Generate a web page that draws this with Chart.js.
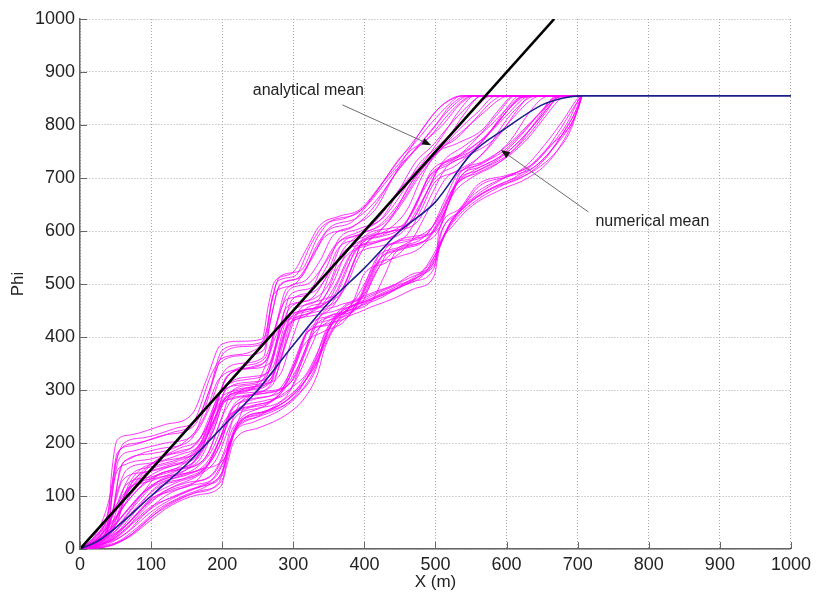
<!DOCTYPE html>
<html>
<head>
<meta charset="utf-8">
<script src="https://cdn.jsdelivr.net/npm/chart.js@4.4.0/dist/chart.umd.min.js"></script>
<style>
    html, body { margin: 0; padding: 0; background: #ffffff; }
    #wrap { width: 816px; height: 599px; }
</style>
</head>
<body>
<div id="wrap"><canvas id="phiChart" width="816" height="599"></canvas></div>
<script>
// Analytical mean (straight line) and numerical mean
const analyticalX = [0, 667];
const analyticalY = [0, 1000];

const numericalX = [0, 25, 50, 100, 150, 200, 250, 300, 350, 400, 450, 500, 550, 600, 650, 680, 705, 1000];
const numericalY = [0, 15, 40, 100, 160, 230, 300, 385, 465, 530, 600, 655, 745, 795, 838, 851, 855, 855];

// Individual realizations, [x, phi] pairs
const realizations = [
    [[0,0],[20,10],[38,40],[45,150],[52,205],[70,215],[120,235],[158,255],[178,320],[198,385],[225,392],[256,396],[265,460],[274,505],[298,520],[318,565],[337,610],[365,628],[393,640],[425,690],[463,752],[480,790],[505,832],[525,850],[542,855],[705,855]],
    [[0,0],[25,12],[40,45],[47,130],[55,185],[80,200],[130,220],[160,240],[185,330],[200,360],[240,372],[262,410],[272,480],[300,498],[325,545],[345,590],[380,605],[410,640],[445,710],[470,750],[495,790],[520,830],[548,855],[705,855]],
    [[0,0],[30,20],[45,60],[52,120],[62,165],[100,180],[150,205],[175,250],[195,320],[230,340],[262,355],[275,420],[290,470],[320,480],[340,530],[360,575],[395,595],[420,625],[450,680],[480,725],[510,780],[535,830],[555,855],[705,855]],
    [[0,0],[20,8],[40,25],[55,60],[65,110],[90,125],[140,150],[168,175],[190,240],[205,300],[240,315],[270,330],[285,400],[300,450],[335,470],[352,520],[370,560],[405,580],[440,630],[465,690],[490,730],[515,770],[540,820],[565,855],[705,855]],
    [[0,0],[25,5],[50,25],[75,60],[100,95],[130,110],[165,130],[190,185],[210,250],[240,270],[280,290],[300,350],[320,410],[355,425],[385,470],[400,520],[430,540],[465,580],[490,640],[515,700],[545,720],[575,760],[600,810],[625,845],[640,855],[705,855]],
    [[0,0],[30,15],[60,40],[90,80],[115,120],[150,135],[180,160],[200,215],[218,260],[260,280],[295,300],[315,365],[330,420],[360,440],[395,460],[415,520],[440,560],[470,585],[500,615],[520,670],[540,710],[570,730],[605,770],[630,820],[650,850],[665,855],[705,855]],
    [[0,0],[20,15],[45,50],[70,95],[95,130],[130,150],[160,165],[178,210],[195,280],[225,300],[255,315],[272,370],[285,430],[315,450],[350,470],[372,530],[390,575],[425,590],[455,610],[475,660],[495,715],[525,735],[560,760],[585,800],[610,840],[625,855],[705,855]],
    [[0,0],[35,20],[60,55],[85,100],[110,140],[140,150],[175,170],[195,230],[215,300],[245,310],[270,325],[290,390],[308,450],[340,470],[368,490],[385,540],[400,590],[435,605],[470,625],[490,680],[510,730],[540,760],[570,790],[600,830],[620,852],[705,855]],
    [[0,0],[15,10],[35,35],[55,70],[80,110],[110,140],[145,160],[170,200],[188,260],[210,290],[245,305],[262,350],[278,410],[300,440],[330,455],[355,500],[375,560],[400,585],[430,600],[460,640],[480,700],[500,745],[530,765],[565,790],[590,830],[610,855],[705,855]],
    [[0,0],[30,10],[55,35],[80,75],[105,115],[135,135],[170,150],[205,175],[222,240],[240,290],[275,300],[300,320],[320,380],[338,440],[365,460],[400,480],[420,530],[440,575],[470,590],[505,605],[520,660],[535,710],[565,730],[600,760],[630,800],[660,840],[675,855],[705,855]],
    [[0,0],[30,5],[55,15],[80,40],[110,75],[145,100],[180,120],[202,150],[210,210],[225,245],[260,270],[298,305],[318,330],[337,380],[350,420],[366,452],[405,480],[444,500],[470,520],[500,545],[505,600],[532,640],[560,688],[600,705],[630,720],[660,760],[690,800],[700,830],[706,855]],
    [[0,0],[40,10],[70,35],[100,70],[130,95],[168,117],[198,140],[208,190],[222,235],[255,255],[295,290],[318,320],[336,360],[345,400],[362,440],[400,470],[440,495],[470,510],[495,535],[508,580],[530,625],[560,660],[600,690],[640,715],[670,750],[690,790],[702,840],[705,855]],
    [[0,0],[25,8],[50,20],[80,55],[110,85],[150,110],[185,130],[205,175],[220,225],[250,250],[285,275],[310,305],[330,345],[348,395],[370,445],[410,470],[445,490],[480,520],[502,560],[520,610],[545,650],[580,680],[620,700],[650,730],[675,775],[695,820],[705,855]],
    [[0,0],[35,15],[65,45],[95,85],[125,110],[160,125],[190,145],[210,200],[228,245],[265,260],[300,285],[322,330],[340,380],[360,425],[390,455],[425,475],[455,500],[485,530],[505,575],[525,625],[555,665],[590,695],[625,720],[655,765],[680,810],[700,850],[705,855]],
    [[0,0],[20,18],[40,50],[60,95],[80,130],[105,165],[140,190],[170,210],[188,260],[205,320],[230,345],[260,360],[275,420],[290,490],[315,505],[338,545],[355,590],[385,610],[415,640],[440,700],[460,745],[485,770],[510,800],[535,840],[555,855],[705,855]],
    [[0,0],[25,25],[45,70],[65,110],[90,150],[120,175],[160,195],[182,240],[200,300],[235,320],[265,335],[280,400],[295,455],[325,470],[350,500],[368,560],[390,590],[420,610],[450,655],[475,710],[500,750],[530,775],[555,810],[580,845],[595,855],[705,855]],
    [[0,0],[15,15],[35,45],[55,85],[75,120],[100,150],[135,165],[165,185],[185,230],[202,280],[235,300],[268,320],[282,380],[298,440],[330,455],[358,480],[375,530],[395,575],[430,595],[460,620],[480,670],[505,720],[535,745],[565,785],[590,825],[612,855],[705,855]],
    [[0,0],[20,20],[42,80],[50,140],[65,160],[100,170],[140,185],[165,200],[190,275],[210,330],[245,345],[265,365],[280,440],[295,490],[320,500],[345,540],[365,580],[395,600],[425,625],[450,680],[472,730],[495,760],[520,800],[545,835],[565,855],[705,855]],
    [[0,0],[18,12],[38,35],[50,90],[60,130],[90,145],[130,160],[160,175],[185,235],[205,285],[240,300],[268,315],[280,370],[292,420],[318,440],[346,480],[362,530],[385,565],[420,580],[455,600],[478,650],[500,700],[530,725],[560,760],[590,810],[615,845],[630,855],[705,855]],
    [[0,0],[25,10],[50,35],[75,70],[100,100],[135,125],[170,145],[195,190],[212,250],[245,270],[280,290],[305,340],[325,400],[350,430],[378,455],[400,500],[418,550],[450,570],[485,590],[510,640],[530,690],[555,715],[590,740],[620,780],[645,820],[665,850],[680,855],[705,855]],
    [[0,0],[20,12],[45,40],[70,80],[95,115],[125,135],[160,150],[185,185],[205,245],[235,265],[270,280],[295,325],[315,385],[342,410],[372,430],[395,480],[412,530],[445,550],[480,570],[505,615],[525,670],[550,700],[585,725],[615,760],[640,805],[660,840],[672,855],[705,855]],
    [[0,0],[22,15],[40,40],[46,110],[55,170],[75,185],[120,200],[160,215],[180,260],[200,330],[225,350],[258,362],[268,430],[280,495],[305,510],[330,560],[348,600],[380,615],[405,650],[435,700],[465,745],[490,775],[518,820],[540,848],[552,855],[705,855]],
    [[0,0],[30,25],[48,80],[56,150],[70,170],[115,190],[155,205],[178,275],[196,350],[230,365],[258,375],[270,445],[282,500],[310,512],[332,570],[350,605],[390,625],[418,660],[450,720],[475,760],[500,800],[522,838],[545,855],[705,855]],
    [[0,0],[28,15],[50,45],[62,90],[75,130],[110,150],[150,170],[175,215],[195,290],[228,310],[262,325],[276,390],[290,455],[322,470],[345,510],[362,565],[392,585],[425,605],[452,650],[478,705],[505,750],[532,790],[560,825],[585,855],[705,855]],
    [[0,0],[40,5],[65,20],[95,55],[125,85],[160,105],[195,125],[205,165],[215,215],[245,240],[285,265],[310,295],[332,340],[342,390],[358,430],[395,460],[435,485],[470,505],[498,530],[506,590],[528,630],[555,670],[595,700],[635,725],[665,765],[688,810],[700,845],[705,855]],
    [[0,0],[35,10],[65,30],[90,65],[120,100],[155,120],[190,135],[206,180],[218,230],[250,255],[290,280],[312,315],[330,355],[345,410],[365,445],[405,470],[445,495],[478,515],[500,550],[515,600],[540,645],[570,675],[610,700],[645,735],[672,785],[693,830],[705,855]],
    [[0,0],[25,18],[50,55],[70,100],[95,135],[125,155],[165,175],[188,225],[206,290],[240,305],[272,320],[288,380],[302,440],[335,455],[365,475],[382,530],[398,580],[432,598],[465,615],[485,665],[505,720],[535,745],[568,775],[598,815],[622,848],[632,855],[705,855]],
    [[0,0],[30,12],[55,40],[80,80],[108,115],[140,130],[175,150],[198,200],[215,265],[248,285],[285,300],[305,360],[322,420],[352,440],[388,460],[408,515],[425,565],[458,580],[492,600],[512,655],[530,705],[560,725],[595,750],[625,790],[652,830],[670,855],[705,855]],
    [[0,0],[20,22],[38,60],[45,120],[52,180],[72,195],[118,215],[160,232],[182,300],[200,375],[228,385],[258,392],[268,455],[278,505],[302,515],[325,575],[342,610],[375,625],[400,645],[430,700],[455,745],[478,785],[502,828],[528,853],[540,855],[705,855]],
    [[0,0],[15,8],[35,28],[58,60],[85,100],[112,130],[150,150],[180,180],[200,250],[222,295],[255,310],[282,330],[298,395],[315,450],[345,465],[372,490],[390,545],[408,585],[440,600],[475,618],[495,670],[515,720],[545,742],[580,770],[610,815],[635,848],[648,855],[705,855]],
    [[0,0],[45,8],[75,30],[105,65],[135,90],[170,110],[200,130],[208,175],[220,228],[252,250],[292,275],[315,305],[334,350],[348,405],[366,448],[402,475],[442,498],[475,518],[500,540],[508,595],[534,638],[562,685],[600,702],[638,720],[668,760],[692,805],[703,840],[706,855]],
    [[0,0],[20,5],[45,18],[70,45],[100,80],[135,100],[170,120],[200,145],[212,205],[230,245],[265,262],[300,290],[320,325],[338,372],[352,420],[375,450],[415,475],[450,495],[485,520],[503,565],[522,618],[550,655],[585,685],[625,708],[658,745],[684,795],[700,835],[705,855]],
    [[0,0],[25,20],[45,60],[58,105],[72,140],[100,155],[140,170],[170,190],[190,250],[208,310],[240,325],[270,340],[285,410],[298,470],[328,485],[350,520],[368,575],[395,595],[428,615],[455,660],[480,715],[508,755],[535,785],[565,820],[592,850],[605,855],[705,855]],
    [[0,0],[35,25],[55,70],[68,120],[85,150],[115,165],[155,180],[180,215],[198,270],[232,290],[265,305],[280,360],[294,425],[325,445],[355,465],[372,515],[388,565],[420,582],[450,600],[472,648],[492,705],[520,730],[552,758],[582,795],[608,838],[622,855],[705,855]],
    [[0,0],[28,8],[52,28],[78,62],[102,95],[132,118],[168,140],[192,170],[210,230],[228,280],[262,295],[295,312],[315,370],[332,430],[360,450],[395,470],[415,525],[432,570],[465,585],[500,602],[518,650],[535,702],[565,722],[602,750],[635,795],[662,838],[678,855],[705,855]],
    [[0,0],[18,20],[32,55],[42,100],[50,160],[62,200],[90,210],[135,228],[165,245],[185,310],[202,370],[232,382],[260,390],[270,470],[282,515],[310,525],[335,590],[352,618],[388,632],[415,670],[448,735],[470,765],[495,805],[520,840],[535,855],[705,855]],
    [[0,0],[32,18],[58,50],[82,90],[108,125],[140,140],[175,158],[196,205],[212,262],[244,282],[278,298],[300,345],[318,405],[348,425],[382,445],[402,495],[420,545],[452,565],[488,585],[508,630],[526,682],[552,708],[588,735],[620,772],[648,815],[668,848],[676,855],[705,855]],
    [[0,0],[15,5],[30,20],[48,45],[60,95],[75,120],[110,135],[150,150],[172,190],[192,265],[220,285],[252,300],[268,345],[285,420],[312,440],[340,460],[360,500],[380,555],[410,575],[445,595],[470,640],[490,700],[518,725],[550,750],[578,790],[602,835],[618,855],[705,855]],
    [[0,0],[38,12],[62,35],[88,72],[118,108],[150,125],[185,140],[203,185],[216,245],[248,265],[288,285],[308,330],[326,385],[342,430],[372,448],[410,468],[428,515],[444,560],[478,578],[503,598],[516,645],[532,695],[562,715],[598,740],[630,780],[656,825],[672,852],[705,855]],
    [[0,0],[22,12],[42,35],[52,75],[64,120],[96,135],[138,150],[168,168],[188,225],[204,280],[238,295],[270,308],[284,365],[296,425],[326,440],[356,458],[374,505],[390,555],[424,572],[458,590],[478,635],[498,690],[528,712],[562,740],[592,785],[616,830],[634,855],[705,855]],
    [[0,0],[26,22],[44,65],[54,115],[66,150],[98,162],[140,178],[170,200],[190,262],[206,325],[238,340],[268,352],[282,420],[296,480],[324,492],[346,530],[364,585],[392,604],[424,622],[452,670],[476,725],[502,758],[528,792],[556,832],[578,855],[705,855]],
    [[0,0],[42,6],[72,25],[100,55],[128,82],[165,102],[198,118],[207,160],[217,205],[250,228],[292,255],[316,285],[334,330],[344,378],[360,420],[398,450],[440,472],[472,492],[498,515],[506,570],[526,612],[552,648],[592,678],[630,700],[662,735],[686,785],[700,828],[706,855]],
    [[0,0],[18,10],[40,30],[62,65],[88,105],[118,128],[155,142],[182,165],[200,220],[218,275],[252,292],[285,305],[304,350],[320,410],[350,432],[385,450],[405,500],[422,548],[455,568],[490,588],[512,635],[530,688],[560,710],[596,735],[628,772],[654,815],[672,845],[682,855],[705,855]]
];

// Annotation text and arrows (data units)
const notes = [
    { text: 'analytical mean', x: 243, y: 864, tail: [369, 838], head: [494, 762] },
    { text: 'numerical mean', x: 725, y: 617, tail: [715, 636], head: [592, 753] }
];

const fontName = '"Liberation Sans", Arial, Helvetica, sans-serif';

function toPoints(xs, ys) {
    return xs.map((x, i) => ({ x: x, y: ys[i] }));
}

// MATLAB style ticks pointing into the axes
const inwardTicks = {
    id: 'inwardTicks',
    afterDraw(chart) {
        const { ctx, chartArea: a, scales: { x, y } } = chart;
        ctx.save();
        ctx.strokeStyle = '#666';
        ctx.lineWidth = 1;
        ctx.beginPath();
        x.ticks.forEach(t => {
            const px = Math.round(x.getPixelForValue(t.value)) + 0.5;
            ctx.moveTo(px, a.bottom);
            ctx.lineTo(px, a.bottom - 7);
        });
        y.ticks.forEach(t => {
            const py = Math.round(y.getPixelForValue(t.value)) + 0.5;
            ctx.moveTo(a.left, py);
            ctx.lineTo(a.left + 7, py);
        });
        ctx.stroke();
        ctx.restore();
    }
};

// Text labels with arrows
const arrowNotes = {
    id: 'arrowNotes',
    afterDatasetsDraw(chart) {
        const { ctx, scales: { x, y } } = chart;
        ctx.save();
        notes.forEach(n => {
            const tx = x.getPixelForValue(n.tail[0]), ty = y.getPixelForValue(n.tail[1]);
            const hx = x.getPixelForValue(n.head[0]), hy = y.getPixelForValue(n.head[1]);
            const ang = Math.atan2(hy - ty, hx - tx);
            const len = 9, wid = 3.5;
            const bx = hx - len * Math.cos(ang), by = hy - len * Math.sin(ang);
            ctx.strokeStyle = '#6b6b6b';
            ctx.lineWidth = 1;
            ctx.beginPath();
            ctx.moveTo(tx, ty);
            ctx.lineTo(bx, by);
            ctx.stroke();
            ctx.fillStyle = '#111';
            ctx.beginPath();
            ctx.moveTo(hx, hy);
            ctx.lineTo(bx + wid * Math.sin(ang), by - wid * Math.cos(ang));
            ctx.lineTo(bx - wid * Math.sin(ang), by + wid * Math.cos(ang));
            ctx.closePath();
            ctx.fill();

            ctx.fillStyle = '#222';
            ctx.font = '16px ' + fontName;
            ctx.textAlign = 'left';
            ctx.textBaseline = 'middle';
            ctx.fillText(n.text, x.getPixelForValue(n.x), y.getPixelForValue(n.y));
        });
        ctx.restore();
    }
};

const datasets = [
    {
        label: 'analytical mean',
        data: toPoints(analyticalX, analyticalY),
        borderColor: '#000000',
        borderWidth: 2.6
    },
    {
        label: 'numerical mean',
        data: toPoints(numericalX, numericalY),
        borderColor: '#1c1f8a',
        borderWidth: 1.6,
        cubicInterpolationMode: 'monotone'
    }
];
realizations.forEach((r, i) => {
    datasets.push({
        label: 'run ' + (i + 1),
        data: r.map(p => ({ x: p[0], y: p[1] })),
        borderColor: '#ff00ff',
        borderWidth: 0.8,
        cubicInterpolationMode: 'monotone'
    });
});

const axisFont = { family: fontName, size: 18 };

new Chart(document.getElementById('phiChart'), {
    type: 'line',
    data: { datasets: datasets },
    options: {
        responsive: false,
        animation: false,
        devicePixelRatio: 1,
        layout: { padding: { top: 19, right: 23, left: 0, bottom: 0 } },
        elements: { point: { radius: 0 } },
        plugins: {
            legend: { display: false },
            tooltip: { enabled: false }
        },
        scales: {
            x: {
                type: 'linear',
                min: 0,
                max: 1000,
                ticks: { stepSize: 100, color: '#222', font: axisFont, padding: 5, maxRotation: 0, callback: v => String(v) },
                grid: { color: '#a8a8a8', lineWidth: 1, drawTicks: false },
                border: { color: '#666', width: 1.5, dash: [1, 2] },
                title: { display: true, text: 'X (m)', color: '#222', font: { family: fontName, size: 17 }, padding: { top: 0, bottom: 6 } },
                afterFit: s => { s.height = 50; }
            },
            y: {
                type: 'linear',
                min: 0,
                max: 1000,
                ticks: { stepSize: 100, color: '#222', font: axisFont, padding: 5, callback: v => String(v) },
                grid: { color: '#a8a8a8', lineWidth: 1, drawTicks: false },
                border: { color: '#666', width: 1.5, dash: [1, 2] },
                title: { display: true, text: 'Phi', color: '#222', font: { family: fontName, size: 17 }, padding: { top: 8, bottom: 0 } },
                afterFit: s => { s.width = 80; }
            }
        }
    },
    plugins: [inwardTicks, arrowNotes]
});
</script>
</body>
</html>
